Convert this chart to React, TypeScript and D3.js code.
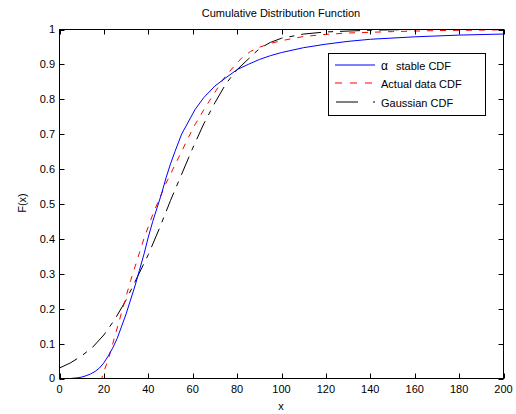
import React from "react";
import * as d3 from "d3";

const title = "Cumulative Distribution Function";
const xTicks = [0, 20, 40, 60, 80, 100, 120, 140, 160, 180, 200];
const yTicks = [0, 0.1, 0.2, 0.3, 0.4, 0.5, 0.6, 0.7, 0.8, 0.9, 1];

const stableX = [0, 5, 8, 10, 12, 14, 16, 18, 20, 22, 24, 26, 28, 30, 32, 34, 36, 38, 40, 42, 44, 46, 48, 50, 52, 55, 58, 61, 65, 70, 75, 80, 85, 90, 95, 100, 110, 120, 130, 140, 160, 180, 200];
const stableY = [0, 0, 0.002, 0.004, 0.008, 0.013, 0.02, 0.03, 0.045, 0.065, 0.088, 0.115, 0.15, 0.185, 0.225, 0.265, 0.31, 0.355, 0.405, 0.45, 0.49, 0.53, 0.575, 0.615, 0.65, 0.7, 0.735, 0.77, 0.805, 0.838, 0.862, 0.885, 0.9, 0.914, 0.925, 0.934, 0.948, 0.958, 0.966, 0.972, 0.979, 0.984, 0.987];

const actualX = [0, 19, 20, 22, 24, 26, 28, 30, 32, 34, 36, 38, 40, 42, 44, 46, 48, 50, 52, 55, 58, 61, 65, 70, 74, 78, 82, 86, 90, 95, 100, 110, 120, 130, 150, 170, 200];
const actualY = [0, 0, 0.02, 0.055, 0.1, 0.145, 0.19, 0.235, 0.28, 0.32, 0.36, 0.4, 0.435, 0.47, 0.5, 0.53, 0.56, 0.585, 0.612, 0.65, 0.69, 0.727, 0.77, 0.82, 0.86, 0.89, 0.918, 0.937, 0.949, 0.96, 0.968, 0.98, 0.986, 0.99, 0.994, 0.997, 0.999];

const gaussX = [0, 5, 10, 15, 20, 25, 30, 35, 40, 45, 50, 55, 60, 65, 70, 75, 80, 85, 90, 95, 100, 110, 120, 140, 160, 200];
const gaussY = [0.03, 0.045, 0.065, 0.09, 0.125, 0.17, 0.225, 0.29, 0.355, 0.43, 0.51, 0.585, 0.66, 0.73, 0.79, 0.845, 0.885, 0.915, 0.945, 0.963, 0.975, 0.987, 0.993, 0.998, 1.0, 1.0];

const legendLabels = ["stable CDF", "Actual data CDF", "Gaussian CDF"];

const W = 516, H = 414;
const L = 59.5, R = 503.5, T = 29.5, B = 378.5;
const font = "'Liberation Sans', Arial, sans-serif";

export default function App() {
  const x = d3.scaleLinear().domain([0, 200]).range([L, R]);
  const y = d3.scaleLinear().domain([0, 1]).range([B, T]);
  const line = d3.line<[number, number]>().x((d) => x(d[0])).y((d) => y(d[1]));
  const zip = (a: number[], b: number[]) => a.map((v, i) => [v, b[i]] as [number, number]);
  const tickLen = 5;

  return (
    <svg width={W} height={H} style={{ position: "absolute", left: 0, top: 0, background: "#fff" }} fontFamily={font}>
      <defs>
        <clipPath id="plotclip">
          <rect x={L} y={T - 1} width={R - L} height={B - T + 2} />
        </clipPath>
      </defs>
      <rect x={0} y={0} width={W} height={H} fill="#fff" />
      <text x={281} y={17} fontSize={11} textAnchor="middle" fill="#000">{title}</text>

      <g clipPath="url(#plotclip)">
        <path d={line(zip(gaussX, gaussY)) || ""} fill="none" stroke="#000" strokeWidth={1} strokeDasharray="20,7,5,7" />
        <path d={line(zip(actualX, actualY)) || ""} fill="none" stroke="#ff0000" strokeWidth={1} strokeDasharray="6,7" />
        <path d={line(zip(stableX, stableY)) || ""} fill="none" stroke="#0000ff" strokeWidth={1} />
      </g>

      {xTicks.map((t) => (
        <g key={"xt" + t}>
          <line x1={Math.round(x(t)) + 0.5} x2={Math.round(x(t)) + 0.5} y1={B} y2={B - tickLen} stroke="#000" />
          <line x1={Math.round(x(t)) + 0.5} x2={Math.round(x(t)) + 0.5} y1={T} y2={T + tickLen} stroke="#000" />
          <text x={x(t)} y={393} fontSize={11} textAnchor="middle" fill="#000">{t}</text>
        </g>
      ))}
      {yTicks.map((t) => (
        <g key={"yt" + t}>
          <line x1={L} x2={L + tickLen} y1={Math.round(y(t)) + 0.5} y2={Math.round(y(t)) + 0.5} stroke="#000" />
          <line x1={R} x2={R - tickLen} y1={Math.round(y(t)) + 0.5} y2={Math.round(y(t)) + 0.5} stroke="#000" />
          <text x={55} y={y(t)} dy="0.36em" fontSize={11} textAnchor="end" fill="#000">{String(t)}</text>
        </g>
      ))}
      <rect x={L} y={T} width={R - L} height={B - T} fill="none" stroke="#000" strokeWidth={1} />

      <text x={281} y={410} fontSize={11} textAnchor="middle" fill="#000">x</text>
      <text transform={`translate(26,203) rotate(-90)`} fontSize={11} textAnchor="middle" fill="#000">F(x)</text>

      <g>
        <rect x={328.5} y={53.5} width={157} height={62} fill="#fff" stroke="#000" strokeWidth={1} />
        <line x1={335} x2={375} y1={65} y2={65} stroke="#0000ff" strokeWidth={1.2} />
        <text x={381} y={69.5} fontSize={11} fill="#000">
          <tspan fontSize={12}>α</tspan>
          <tspan x={396}>{legendLabels[0]}</tspan>
        </text>
        <line x1={335} x2={375} y1={83} y2={83} stroke="#ff0000" strokeWidth={1.2} strokeDasharray="7,8" />
        <text x={381} y={87.5} fontSize={11} fill="#000">{legendLabels[1]}</text>
        <line x1={336} x2={378} y1={102} y2={102} stroke="#000" strokeWidth={1.2} strokeDasharray="22,15,2,40" />
        <text x={381} y={106.5} fontSize={11} fill="#000">{legendLabels[2]}</text>
      </g>
    </svg>
  );
}
